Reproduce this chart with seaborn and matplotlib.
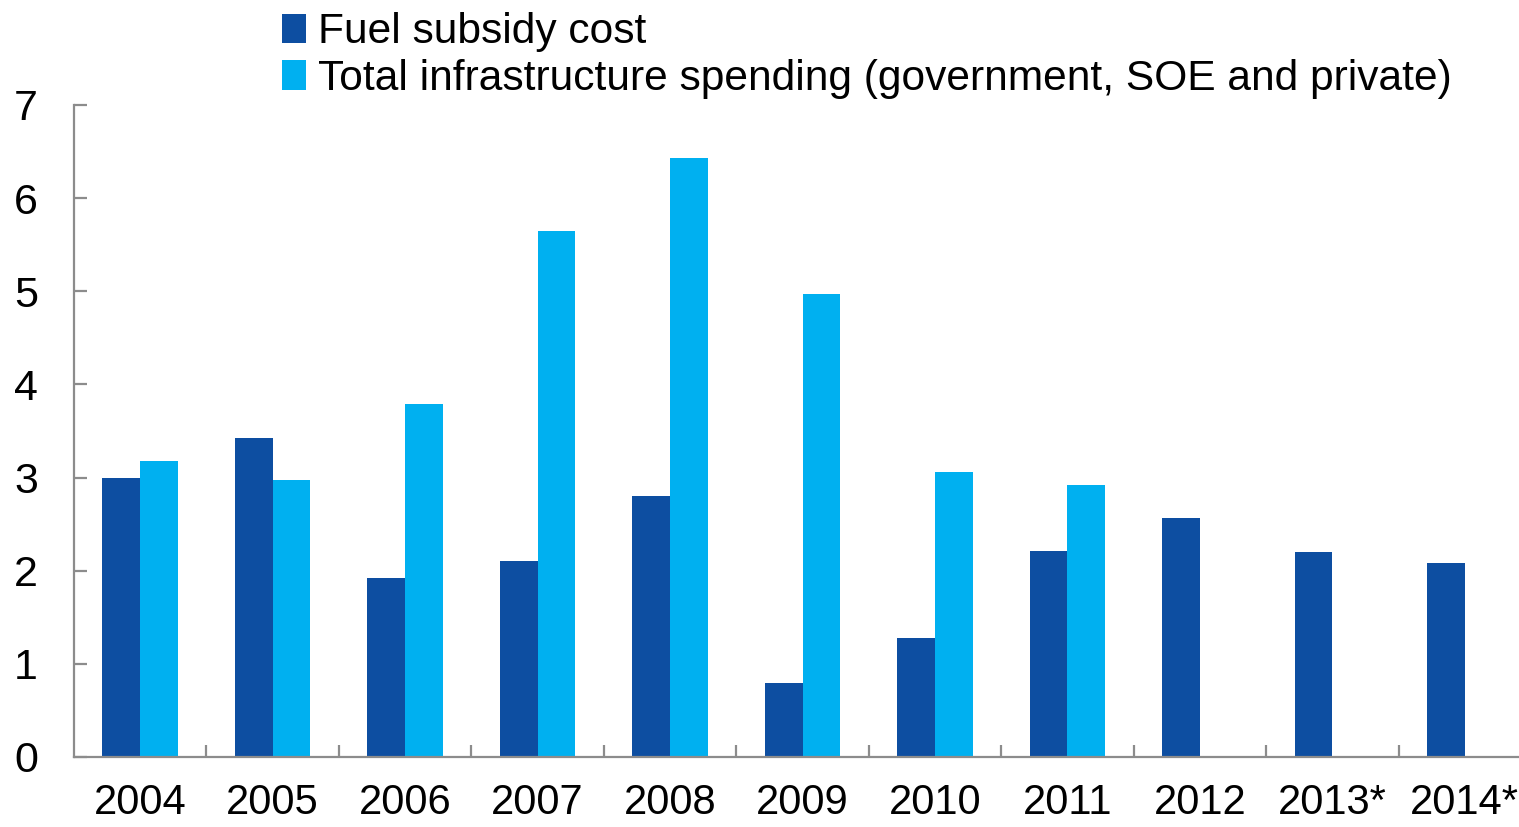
import numpy as np
import pandas as pd
import matplotlib
matplotlib.use("Agg")
import matplotlib.pyplot as plt
import seaborn as sns

years = ["2004", "2005", "2006", "2007", "2008", "2009", "2010", "2011", "2012", "2013*", "2014*"]
fuel_subsidy = [3.00, 3.42, 1.92, 2.10, 2.80, 0.79, 1.28, 2.21, 2.57, 2.20, 2.08]
infrastructure = [3.18, 2.97, 3.79, 5.65, 6.43, 4.97, 3.06, 2.92, np.nan, np.nan, np.nan]
series_names = ["Fuel subsidy cost", "Total infrastructure spending (government, SOE and private)"]
colors = ["#0D4EA1", "#00B0F0"]

df = pd.DataFrame({
    "year": years * 2,
    "value": fuel_subsidy + infrastructure,
    "series": [series_names[0]] * len(years) + [series_names[1]] * len(years),
})

sns.set_theme(style="white")
plt.rcParams["font.family"] = ["Liberation Sans", "DejaVu Sans"]

W, H = 1519, 827
fig = plt.figure(figsize=(W / 100, H / 100), dpi=100)
# plot area runs a little past the right edge of the figure
ax = fig.add_axes([74 / W, 1 - 757 / H, 1457 / W, (757 - 105) / H])

sns.barplot(data=df, x="year", y="value", hue="series", order=years,
            hue_order=series_names, palette=colors, width=0.57,
            linewidth=0, saturation=1, errorbar=None, ax=ax, legend=True)

ax.set_xlim(-0.5, len(years) - 0.5)
ax.set_ylim(0, 7)
ax.set_yticks(range(0, 8))
ax.set_xlabel("")
ax.set_ylabel("")

axis_gray = "#8C8C8C"
for side in ["top", "right"]:
    ax.spines[side].set_visible(False)
for side in ["left", "bottom"]:
    ax.spines[side].set_color(axis_gray)
    ax.spines[side].set_linewidth(1.6)

ax.tick_params(axis="y", direction="in", length=9, width=1.6, color=axis_gray,
               labelsize=31, pad=26, left=True, labelcolor="black")
ax.tick_params(axis="x", which="major", length=0, labelsize=30, pad=19,
               labelcolor="black")
ax.set_xticks(np.arange(0.5, len(years) - 1, 1.0), minor=True)
ax.tick_params(axis="x", which="minor", direction="in", length=9, width=1.6,
               color=axis_gray, bottom=True)

handles, labels = ax.get_legend_handles_labels()
ax.get_legend().remove()
fig.legend(handles, labels, loc="upper left", bbox_to_anchor=(276 / W, 1 - 6 / H),
           frameon=False, fontsize=30.6, labelcolor="black", handlelength=0.55,
           handleheight=0.7, handletextpad=0.28, labelspacing=0.15,
           borderpad=0.15, borderaxespad=0)

fig.savefig("out.png", dpi=100, facecolor="white")
